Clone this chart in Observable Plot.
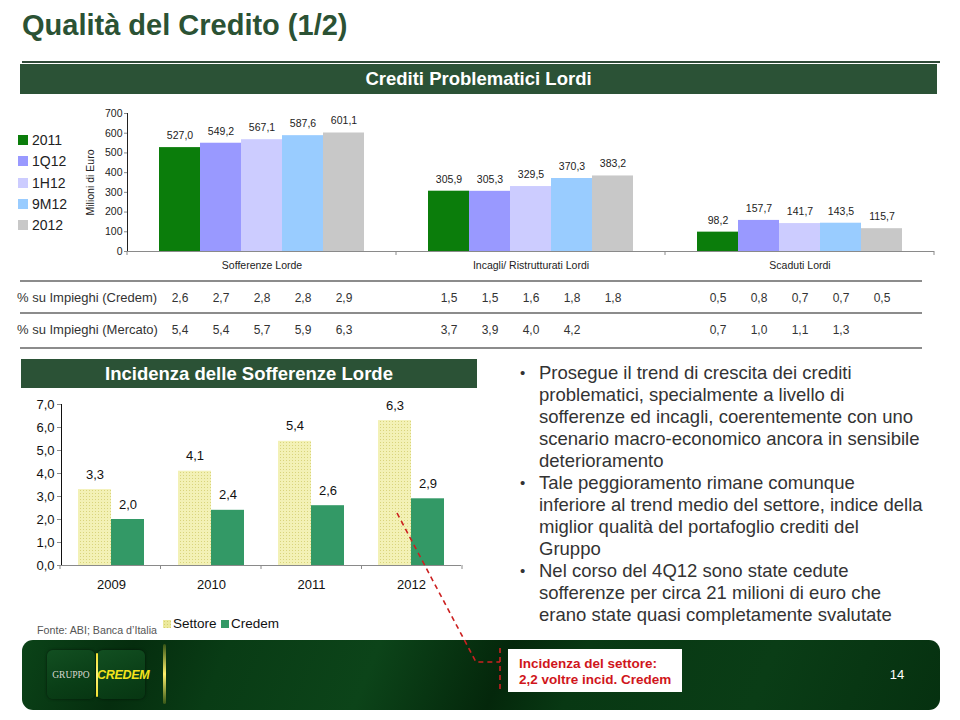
<!DOCTYPE html>
<html><head><meta charset="utf-8">
<script src="https://cdn.jsdelivr.net/npm/d3@7"></script>
<script src="https://cdn.jsdelivr.net/npm/@observablehq/plot@0.6"></script>
<style>
html,body{margin:0;padding:0;background:#fff;}
body{width:960px;height:720px;position:relative;overflow:hidden;font-family:"Liberation Sans",Arial,Helvetica,sans-serif;color:#222;}
.abs{position:absolute;}
.title{left:22px;top:9px;height:32px;line-height:32px;font-size:29px;font-weight:bold;color:#2b5234;white-space:nowrap;}
.rule{background:#2f4a38;}
.banner{background:#2b5236;color:#fff;font-weight:bold;font-size:18.5px;text-align:center;white-space:nowrap;}
.leg{left:18px;height:20px;line-height:20px;font-size:14px;white-space:nowrap;}
.leg i{display:inline-block;width:10px;height:10px;margin-right:4px;vertical-align:-0px;}
.hline{left:20px;width:902px;height:2px;background:#8c8c8c;}
.rowlab{left:17px;height:20px;line-height:20px;font-size:13px;color:#333;white-space:nowrap;}
.bul{left:520px;font-size:18.5px;line-height:22px;color:#333;white-space:nowrap;}
.bul p{margin:0;padding-left:19px;position:relative;}
.bul p:before{content:"•";position:absolute;left:0;top:0;font-size:15px;}
.footer{left:22px;top:640px;width:918px;height:70px;border-radius:11px;
 background:linear-gradient(112deg,#0b4318 0%,#052d0e 12%,#093c15 22%,#0c4419 38%,#04270b 52%,#083813 60%,#0a3d16 80%,#063110 100%);}
.logo{width:48px;height:49px;border-radius:6px;background:linear-gradient(160deg,#124f21,#0a3f17 60%,#073612);box-shadow:0 0 3px rgba(0,0,0,.6);}
.callout{left:508px;top:649px;width:174px;height:43px;background:#fff;color:#d0161b;font-weight:bold;font-size:13.5px;line-height:16px;box-sizing:border-box;padding:7px 0 0 11px;white-space:nowrap;}
</style></head><body>
<svg width="0" height="0" style="position:absolute"><defs>
<pattern id="dots" width="3" height="3" patternUnits="userSpaceOnUse"><rect width="3" height="3" fill="#f3f1b6"/><rect x="1" y="1" width="1" height="1" fill="#d9d47c"/></pattern>
</defs></svg>

<div class="abs title">Qualità del Credito (1/2)</div>
<div class="abs rule" style="left:22px;top:61px;width:918px;height:2px;"></div>
<div class="abs banner" style="left:20px;top:64px;width:917px;height:30px;line-height:30px;">Crediti Problematici Lordi</div>

<div id="legendTop"></div>
<div id="topChart" class="abs" style="left:0;top:100px;"></div>

<div class="abs hline" style="top:280px"></div>
<div class="abs hline" style="top:312px"></div>
<div class="abs hline" style="top:347px"></div>
<div id="rowLabels"></div>
<div id="tableChart" class="abs" style="left:0;top:282px;"></div>

<div class="abs banner" style="left:21px;top:359px;width:456px;height:29px;line-height:29px;">Incidenza delle Sofferenze Lorde</div>
<div id="botChart" class="abs" style="left:0;top:390px;"></div>
<div class="abs" style="left:37px;top:621px;height:18px;line-height:18px;font-size:10.7px;color:#555;white-space:nowrap;">Fonte: ABI; Banca d’Italia</div>
<div id="legendBot"></div>

<div class="abs bul" style="top:362px;">
<p>Prosegue il trend di crescita dei crediti<br>problematici, specialmente a livello di<br>sofferenze ed incagli, coerentemente con uno<br>scenario macro-economico ancora in sensibile<br>deterioramento</p>
<p>Tale peggioramento rimane comunque<br>inferiore al trend medio del settore, indice della<br>miglior qualità del portafoglio crediti del<br>Gruppo</p>
<p>Nel corso del 4Q12 sono state cedute<br>sofferenze per circa 21 milioni di euro che<br>erano state quasi completamente svalutate</p>
</div>

<div class="abs footer"></div>
<div class="abs logo" style="left:47px;top:650px;"></div>
<div class="abs logo" style="left:97px;top:650px;"></div>
<div class="abs" style="left:47px;top:666px;width:48px;text-align:center;font-family:'Liberation Serif','DejaVu Serif',serif;font-size:9.5px;color:#d8d8d0;line-height:18px;">GRUPPO</div>
<div class="abs" style="left:97px;top:666px;width:48px;text-align:center;font-weight:bold;font-style:italic;font-size:12.5px;color:#f4e41c;line-height:18px;letter-spacing:-0.3px;">CREDEM</div>
<div class="abs" style="left:95.5px;top:653px;width:2px;height:44px;border-radius:2px;background:linear-gradient(#f2e030,#fff27a 50%,#f2e030);"></div>
<div class="abs" style="left:163px;top:644px;width:2.5px;height:60px;border-radius:2px;background:linear-gradient(rgba(240,220,40,.2),#fff06a 50%,rgba(240,220,40,.2));"></div>
<div class="abs" style="left:880px;top:665px;width:34px;height:20px;line-height:20px;text-align:center;color:#fff;font-size:13px;">14</div>
<div class="abs callout">Incidenza del settore:<br>2,2 voltre incid. Credem</div>

<svg class="abs" width="960" height="720" style="left:0;top:0;pointer-events:none;">
<path d="M397,513 L476,662 L500,662 M500,648 L500,693" fill="none" stroke="#cc2020" stroke-width="1.6" stroke-dasharray="5,4"/>
</svg>

<script>
// ---------- data ----------
const categories = ["Sofferenze Lorde", "Incagli/ Ristrutturati Lordi", "Scaduti Lordi"];
const periods = ["2011", "1Q12", "1H12", "9M12", "2012"];
const sofferenze = [527.0, 549.2, 567.1, 587.6, 601.1];
const incagli = [305.9, 305.3, 329.5, 370.3, 383.2];
const scaduti = [98.2, 157.7, 141.7, 143.5, 115.7];
const periodColors = ["#0b7d0b", "#9999ff", "#ccccff", "#99ccff", "#c8c8c8"];
const yTicksTop = [0, 100, 200, 300, 400, 500, 600, 700];

const tableRows = ["% su Impieghi (Credem)", "% su Impieghi (Mercato)"];
const pctCredemSoff = [2.6, 2.7, 2.8, 2.8, 2.9];
const pctCredemInc = [1.5, 1.5, 1.6, 1.8, 1.8];
const pctCredemScad = [0.5, 0.8, 0.7, 0.7, 0.5];
const pctMercatoSoff = [5.4, 5.4, 5.7, 5.9, 6.3];
const pctMercatoInc = [3.7, 3.9, 4.0, 4.2, null];
const pctMercatoScad = [0.7, 1.0, 1.1, 1.3, null];

const years = ["2009", "2010", "2011", "2012"];
const seriesNames = ["Settore", "Credem"];
const settore = [3.3, 4.1, 5.4, 6.3];
const credem = [2.0, 2.4, 2.6, 2.9];
const seriesFills = ["url(#dots)", "#339966"];
const yTicksBottom = [0, 1, 2, 3, 4, 5, 6, 7];

const FONT = "'Liberation Sans', Arial, Helvetica, sans-serif";
const fmt = (v, d) => v.toFixed(d).replace(".", ",");

// ---------- helpers ----------
function separators(plot, len) {
  const fx = plot.scale("fx"), y = plot.scale("y");
  const band = d3.scaleBand(fx.domain, fx.range).paddingInner(fx.paddingInner || 0).paddingOuter(fx.paddingOuter || 0);
  const y0 = d3.scaleLinear(y.domain, y.range)(0);
  const step = band.step();
  const x0 = band(fx.domain[0]) - step * band.paddingInner() / 2;
  const xs = d3.range(fx.domain.length + 1).map(i => x0 + i * step);
  d3.select(plot).append("g").selectAll("line").data(xs).join("line")
    .attr("x1", d => d).attr("x2", d => d).attr("y1", y0).attr("y2", y0 + len)
    .attr("stroke", "#8a8a8a");
}
function greyAxis(plot) {
  d3.select(plot).selectAll("[aria-label^='y-axis'] path, [aria-label^='y-axis'] line, g.tick line, path.domain").attr("stroke", "#8a8a8a");
}

// ---------- top legend ----------
const legTop = d3.select("#legendTop");
periods.forEach((p, i) => {
  const el = legTop.append("div").attr("class", "abs leg").style("top", (130 + i * 21.3) + "px");
  el.append("i").style("background", periodColors[i]);
  el.append("span").text(p);
});

// ---------- top chart ----------
const seriesByCat = [sofferenze, incagli, scaduti];
const topData = categories.flatMap((c, i) => periods.map((p, j) => ({category: c, period: p, value: seriesByCat[i][j]})));
const topPlot = Plot.plot({
  width: 960, height: 180, marginLeft: 127, marginRight: 26, marginTop: 13, marginBottom: 29,
  style: {fontFamily: FONT, fontSize: "10.5px", color: "#222", background: "transparent", overflow: "visible"},
  facet: {data: topData, x: "category"},
  fx: {domain: categories, padding: 0, axis: "bottom", label: null, tickSize: 0, tickPadding: 10},
  x: {domain: periods, axis: null, paddingInner: 0, paddingOuter: 0.75},
  y: {domain: [0, 700], ticks: yTicksTop, tickFormat: d => String(d), tickSize: 3, tickPadding: 2, line: true,
      label: "Milioni di Euro", labelAnchor: "center", labelOffset: 41, labelArrow: "none"},
  color: {domain: periods, range: periodColors},
  marks: [
    Plot.barY(topData, {x: "period", y: "value", fill: "period"}),
    Plot.text(topData, {x: "period", y: "value", text: d => fmt(d.value, 1), dy: -12, fill: "#222"}),
    Plot.ruleY([0], {stroke: "#8a8a8a"})
  ]
});
document.getElementById("topChart").append(topPlot);
separators(topPlot, 4);
greyAxis(topPlot);

// ---------- table ----------
const pctTable = [[pctCredemSoff, pctCredemInc, pctCredemScad], [pctMercatoSoff, pctMercatoInc, pctMercatoScad]];
const tableData = [];
tableRows.forEach((r, ri) => categories.forEach((c, ci) => periods.forEach((p, pi) => {
  const v = pctTable[ri][ci][pi];
  if (v != null) tableData.push({row: r, category: c, period: p, value: v});
})));
const tablePlot = Plot.plot({
  width: 960, height: 64, marginLeft: 127, marginRight: 26, marginTop: 0, marginBottom: 0,
  style: {fontFamily: FONT, fontSize: "12px", color: "#333", background: "transparent", overflow: "visible"},
  facet: {data: tableData, x: "category"},
  fx: {domain: categories, padding: 0, axis: null},
  x: {type: "band", domain: periods, axis: null, paddingInner: 0, paddingOuter: 0.75},
  y: {type: "band", domain: tableRows, axis: null, padding: 0},
  marks: [Plot.text(tableData, {x: "period", y: "row", text: d => fmt(d.value, 1), fill: "#333"})]
});
document.getElementById("tableChart").append(tablePlot);
const rl = d3.select("#rowLabels");
tableRows.forEach((r, i) => rl.append("div").attr("class", "abs rowlab").style("top", (288 + i * 32) + "px").text(r));

// ---------- bottom chart ----------
const botData = years.flatMap((yr, i) => [
  {year: yr, series: seriesNames[0], value: settore[i]},
  {year: yr, series: seriesNames[1], value: credem[i]}
]);
const botPlot = Plot.plot({
  width: 480, height: 205, marginLeft: 60, marginRight: 18, marginTop: 14, marginBottom: 30,
  style: {fontFamily: FONT, fontSize: "13px", color: "#111", background: "transparent", overflow: "visible"},
  facet: {data: botData, x: "year"},
  fx: {domain: years, padding: 0, axis: "bottom", label: null, tickSize: 0, tickPadding: 14},
  x: {domain: seriesNames, axis: null, paddingInner: 0, paddingOuter: 0.5},
  y: {domain: [0, 7], ticks: yTicksBottom, tickFormat: d => fmt(d, 1), tickSize: 4, tickPadding: 3, line: true, label: null},
  color: {domain: seriesNames, range: seriesFills},
  marks: [
    Plot.barY(botData, {x: "series", y: "value", fill: "series"}),
    Plot.text(botData, {x: "series", y: "value", text: d => fmt(d.value, 1), dy: -15, fill: "#111"}),
    Plot.ruleY([0], {stroke: "#8a8a8a"})
  ]
});
document.getElementById("botChart").append(botPlot);
separators(botPlot, 4);
greyAxis(botPlot);

// ---------- bottom legend ----------
const lb = d3.select("#legendBot");
const legX = [163, 221];
seriesNames.forEach((s, i) => {
  lb.append("div").attr("class", "abs").style("left", legX[i] + "px").style("top", "620px")
    .style("width", "8px").style("height", "8px")
    .style("background", i === 0 ? "#ece99c" : seriesFills[i])
    .style("background-image", i === 0 ? "radial-gradient(#d6d170 35%, transparent 40%)" : null)
    .style("background-size", i === 0 ? "3px 3px" : null);
  lb.append("div").attr("class", "abs").style("left", (legX[i] + 10) + "px").style("top", "614px")
    .style("height", "20px").style("line-height", "20px").style("font-size", "13.5px").style("color", "#111").text(s);
});
</script>
</body></html>
